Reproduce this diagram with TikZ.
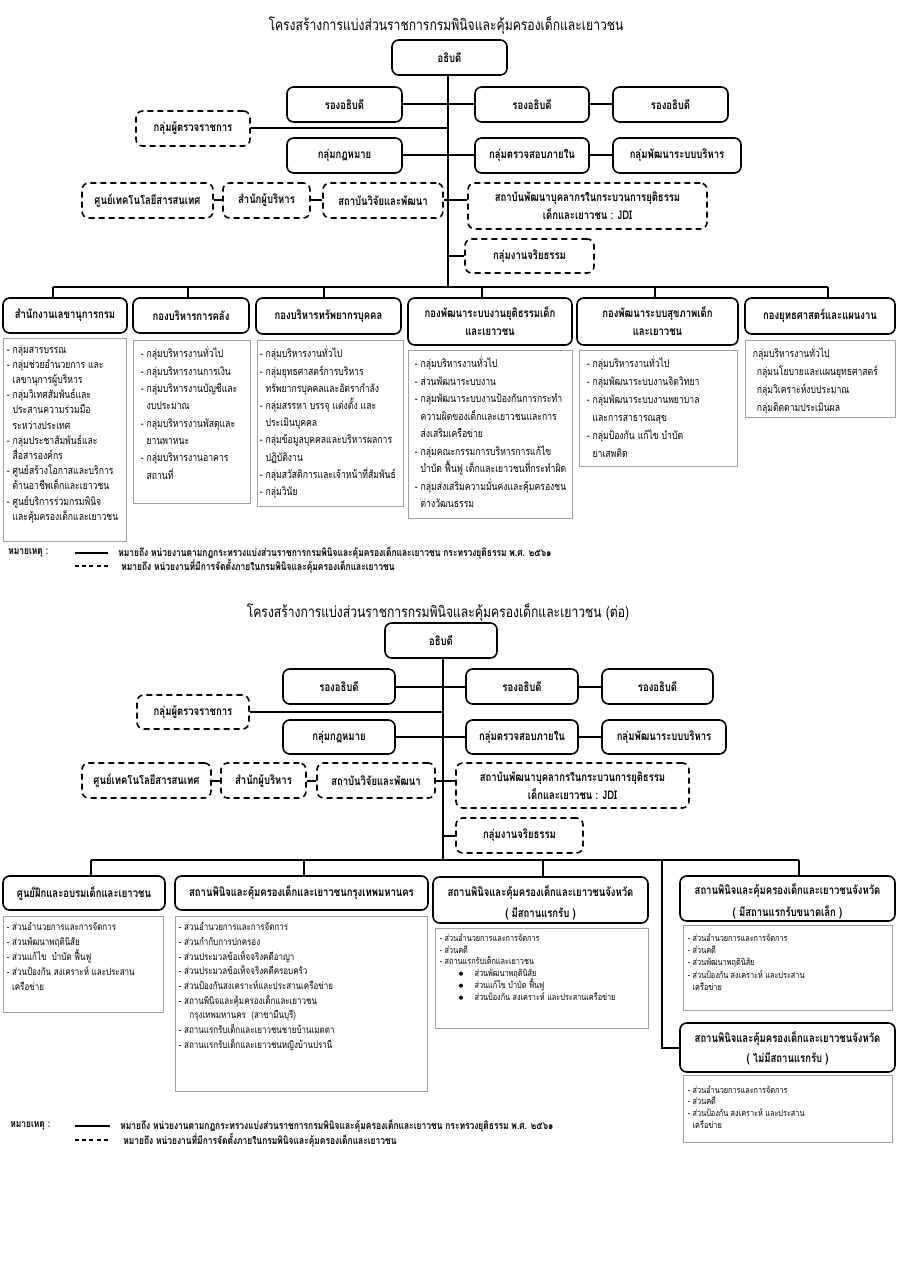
\documentclass[tikz,border=0pt]{standalone}
\usepackage{fontspec}
\setmainfont{Loma}[Script=Thai, FakeStretch=0.8]
\begin{document}
\tikzset{
  ubox/.style={draw, line width=1.2pt, rounded corners=5pt, inner sep=0pt, align=center, font=\bfseries\fontsize{8.9}{13.5}\selectfont},
  dbox/.style={ubox, dash pattern=on 4.5pt off 3pt},
  lbox/.style={draw=gray!75, line width=0.7pt, inner sep=0pt},
  boxlabel/.style={inner sep=0pt, align=center, font=\bfseries\fontsize{8.9}{#1}\selectfont},
  listtext/.style={anchor=north west, inner sep=0pt, align=left, font=\fontsize{8.1}{#1}\selectfont},
  listmid/.style={anchor=north west, inner sep=0pt, align=left, font=\fontsize{7.5}{#1}\selectfont},
  listsmall/.style={anchor=north west, inner sep=0pt, align=left, font=\fontsize{6.85}{#1}\selectfont},
  conn/.style={line width=1.5pt},
  legtext/.style={anchor=west, inner sep=0pt, font=\bfseries\fontsize{7.9}{9}\selectfont},
  ttl/.style={inner sep=0pt, font=\fontsize{11.4}{14}\selectfont}
}
\newcommand\bx[7]{\node[#6, minimum width={(#4-#2)*0.75pt}, minimum height={(#5-#3)*0.75pt}] (#1) at ({(#2+#4)/2},{(#3+#5)/2}) {#7};}
\newcommand\hi{\phantom{- }}
\begin{tikzpicture}[x=0.75pt,y=-0.75pt]
\fill[white] (0,0) rectangle (900,1273);
\useasboundingbox (0,0) rectangle (900,1273);

% ================= TOP CHART =================
\node[ttl] (title1) at (446,25) {โครงสร้างการแบ่งส่วนราชการกรมพินิจและคุ้มครองเด็กและเยาวชน};
\bx{ceo1}{392}{40}{507}{75}{ubox}{อธิบดี}
\bx{dep1a}{287}{87}{402}{122}{ubox}{รองอธิบดี}
\bx{dep1b}{475}{87}{589}{122}{ubox}{รองอธิบดี}
\bx{dep1c}{613}{87}{728}{122}{ubox}{รองอธิบดี}
\bx{insp1}{136}{111}{250}{146}{dbox}{กลุ่มผู้ตรวจราชการ}
\bx{law1}{287}{138}{402}{173}{ubox}{กลุ่มกฎหมาย}
\bx{aud1}{475}{138}{589}{173}{ubox}{กลุ่มตรวจสอบภายใน}
\bx{pmd1}{613}{138}{741}{173}{ubox}{กลุ่มพัฒนาระบบบริหาร}
\bx{ict1}{82}{183}{213}{218}{dbox}{ศูนย์เทคโนโลยีสารสนเทศ}
\bx{exe1}{223}{183}{310}{218}{dbox}{สำนักผู้บริหาร}
\bx{rnd1}{323}{183}{443}{218}{dbox}{สถาบันวิจัยและพัฒนา}
\bx{jdi1}{468}{183}{707}{229}{dbox}{สถาบันพัฒนาบุคลากรในกระบวนการยุติธรรม\\เด็กและเยาวชน : JDI}
\bx{eth1}{465}{239}{594}{273}{dbox}{กลุ่มงานจริยธรรม}

\coordinate (tr1) at (448,287);
\coordinate (b1) at (53,287);
\coordinate (b2) at (188,287);
\coordinate (b3) at (324,287);
\coordinate (b4) at (482,287);
\coordinate (b5) at (655,287);
\coordinate (b6) at (828,287);

\bx{k1}{3}{298}{127}{333}{ubox}{สำนักงานเลขานุการกรม}
\bx{k2}{133}{298}{249}{333}{ubox}{กองบริหารการคลัง}
\bx{k3}{256}{298}{401}{334}{ubox}{กองบริหารทรัพยากรบุคคล}
\bx{k4}{408}{298}{572}{345}{ubox}{กองพัฒนาระบบงานยุติธรรมเด็ก\\และเยาวชน}
\bx{k5}{577}{298}{738}{345}{ubox}{กองพัฒนาระบบสุขภาพเด็ก\\และเยาวชน}
\bx{k6}{745}{298}{895}{334}{ubox}{กองยุทธศาสตร์และแผนงาน}

\draw[conn] (ceo1.south -| tr1) -- (tr1);
\draw[conn] (dep1a.east) -- (dep1b.west);
\draw[conn] (dep1b.east) -- (dep1c.west);
\draw[conn] (insp1.east) -- (insp1.east -| tr1);
\draw[conn] (law1.east) -- (aud1.west);
\draw[conn] (aud1.east) -- (pmd1.west);
\draw[conn] (ict1.east) -- (exe1.west);
\draw[conn] (exe1.east) -- (rnd1.west);
\draw[conn] (rnd1.east) -- (rnd1.east -| jdi1.west);
\draw[conn] (eth1.west -| tr1) -- (eth1.west);
\draw[conn] (b1) -- (b6);
\foreach \i in {1,...,6} {\draw[conn] (b\i) -- (b\i |- k\i.north);}

\bx{l1}{3}{338}{126}{541}{lbox}{}
\bx{l2}{133}{340}{250}{503}{lbox}{}
\bx{l3}{257}{340}{403}{506}{lbox}{}
\bx{l4}{408}{350}{572}{518}{lbox}{}
\bx{l5}{579}{350}{737}{466}{lbox}{}
\bx{l6}{745}{340}{895}{417}{lbox}{}

\node[listtext=11.4] (t1) at ([shift={(4,7)}]l1.north west) {- กลุ่มสารบรรณ\\- กลุ่มช่วยอำนวยการ และ\\\hi เลขานุการผู้บริหาร\\- กลุ่มวิเทศสัมพันธ์และ\\\hi ประสานความร่วมมือ\\\hi ระหว่างประเทศ\\- กลุ่มประชาสัมพันธ์และ\\\hi สื่อสารองค์กร\\- ศูนย์สร้างโอกาสและบริการ\\\hi ด้านอาชีพเด็กและเยาวชน\\- ศูนย์บริการร่วมกรมพินิจ\\\hi และคุ้มครองเด็กและเยาวชน};
\node[listtext=13] (t2) at ([shift={(8,7)}]l2.north west) {- กลุ่มบริหารงานทั่วไป\\- กลุ่มบริหารงานการเงิน\\- กลุ่มบริหารงานบัญชีและ\\\hi งบประมาณ\\- กลุ่มบริหารงานพัสดุและ\\\hi ยานพาหนะ\\- กลุ่มบริหารงานอาคาร\\\hi สถานที่};
\node[listtext=12.9] (t3) at ([shift={(3,7)}]l3.north west) {- กลุ่มบริหารงานทั่วไป\\- กลุ่มยุทธศาสตร์การบริหาร\\\hi ทรัพยากรบุคคลและอัตรากำลัง\\- กลุ่มสรรหา บรรจุ แต่งตั้ง และ\\\hi ประเมินบุคคล\\- กลุ่มข้อมูลบุคคลและบริหารผลการ\\\hi ปฏิบัติงาน\\- กลุ่มสวัสดิการและเจ้าหน้าที่สัมพันธ์\\- กลุ่มวินัย};
\node[listtext=13.1] (t4) at ([shift={(7,7)}]l4.north west) {- กลุ่มบริหารงานทั่วไป\\- ส่วนพัฒนาระบบงาน\\- กลุ่มพัฒนาระบบงานป้องกันการกระทำ\\\hi ความผิดของเด็กและเยาวชนและการ\\\hi ส่งเสริมเครือข่าย\\- กลุ่มคณะกรรมการบริหารการแก้ไข\\\hi บำบัด ฟื้นฟู เด็กและเยาวชนที่กระทำผิด\\- กลุ่มส่งเสริมความมั่นคงและคุ้มครองชน\\\hi ต่างวัฒนธรรม};
\node[listtext=13.4] (t5) at ([shift={(8,7)}]l5.north west) {- กลุ่มบริหารงานทั่วไป\\- กลุ่มพัฒนาระบบงานจิตวิทยา\\- กลุ่มพัฒนาระบบงานพยาบาล\\\hi และการสาธารณสุข\\- กลุ่มป้องกัน แก้ไข บำบัด\\\hi ยาเสพติด};
\node[listtext=13.5] (t6) at ([shift={(8,7)}]l6.north west) {กลุ่มบริหารงานทั่วไป\\\hspace*{3pt}กลุ่มนโยบายและแผนยุทธศาสตร์\\\hspace*{3pt}กลุ่มวิเคราะห์งบประมาณ\\\hspace*{3pt}กลุ่มติดตามประเมินผล};

\node[legtext] (note1) at (8,553) {หมายเหตุ :};
\coordinate (sa1) at (75,553);
\coordinate (sb1) at (108,553);
\coordinate (da1) at (75,566);
\coordinate (db1) at (108,566);
\draw[line width=1pt] (sa1) -- (sb1);
\draw[line width=1pt, dash pattern=on 3pt off 2.4pt] (da1) -- (db1);
\node[legtext] (lg1a) at (118,553) {หมายถึง หน่วยงานตามกฎกระทรวงแบ่งส่วนราชการกรมพินิจและคุ้มครองเด็กและเยาวชน กระทรวงยุติธรรม พ.ศ. ๒๕๖๑};
\node[legtext] (lg1b) at (121,566) {หมายถึง หน่วยงานที่มีการจัดตั้งภายในกรมพินิจและคุ้มครองเด็กและเยาวชน};

% ================= BOTTOM CHART =================
\node[ttl] (title2) at (438,612) {โครงสร้างการแบ่งส่วนราชการกรมพินิจและคุ้มครองเด็กและเยาวชน (ต่อ)};
\bx{ceo2}{385}{623}{497}{658}{ubox}{อธิบดี}
\bx{dep2a}{283}{669}{395}{704}{ubox}{รองอธิบดี}
\bx{dep2b}{466}{669}{578}{704}{ubox}{รองอธิบดี}
\bx{dep2c}{602}{669}{713}{704}{ubox}{รองอธิบดี}
\bx{insp2}{137}{695}{249}{729}{dbox}{กลุ่มผู้ตรวจราชการ}
\bx{law2}{283}{720}{395}{754}{ubox}{กลุ่มกฎหมาย}
\bx{aud2}{466}{720}{578}{754}{ubox}{กลุ่มตรวจสอบภายใน}
\bx{pmd2}{602}{720}{726}{754}{ubox}{กลุ่มพัฒนาระบบบริหาร}
\bx{ict2}{82}{763}{211}{798}{dbox}{ศูนย์เทคโนโลยีสารสนเทศ}
\bx{exe2}{221}{763}{306}{798}{dbox}{สำนักผู้บริหาร}
\bx{rnd2}{317}{763}{435}{798}{dbox}{สถาบันวิจัยและพัฒนา}
\bx{jdi2}{456}{763}{689}{808}{dbox}{สถาบันพัฒนาบุคลากรในกระบวนการยุติธรรม\\เด็กและเยาวชน : JDI}
\bx{eth2}{456}{818}{583}{853}{dbox}{กลุ่มงานจริยธรรม}

\coordinate (tr2) at (443,860);
\coordinate (c1) at (91,860);
\coordinate (c2) at (304,860);
\coordinate (c3) at (543,860);
\coordinate (c5) at (662,860);
\coordinate (c4) at (799,860);

\bx{m1}{3}{876}{165}{910}{ubox}{ศูนย์ฝึกและอบรมเด็กและเยาวชน}
\bx{m2}{175}{876}{428}{910}{ubox}{สถานพินิจและคุ้มครองเด็กและเยาวชนกรุงเทพมหานคร}
\bx{m3}{433}{877}{648}{923}{ubox}{}
\bx{m4}{680}{876}{895}{921}{ubox}{}
\bx{m5}{680}{1023}{895}{1072}{ubox}{}
\node[boxlabel=15.8] (m3t) at (540.5,903) {สถานพินิจและคุ้มครองเด็กและเยาวชนจังหวัด\\( มีสถานแรกรับ )};
\node[boxlabel=16.5] (m4t) at (787.5,901.5) {สถานพินิจและคุ้มครองเด็กและเยาวชนจังหวัด\\( มีสถานแรกรับขนาดเล็ก )};
\node[boxlabel=15] (m5t) at (787.5,1048) {สถานพินิจและคุ้มครองเด็กและเยาวชนจังหวัด\\( ไม่มีสถานแรกรับ )};

\draw[conn] (ceo2.south -| tr2) -- (tr2);
\draw[conn] (dep2a.east) -- (dep2b.west);
\draw[conn] (dep2b.east) -- (dep2c.west);
\draw[conn] (insp2.east) -- (insp2.east -| tr2);
\draw[conn] (law2.east) -- (aud2.west);
\draw[conn] (aud2.east) -- (pmd2.west);
\draw[conn] (ict2.east) -- (exe2.west);
\draw[conn] (exe2.east) -- (rnd2.west);
\draw[conn] (rnd2.east) -- (rnd2.east -| jdi2.west);
\draw[conn] (eth2.west -| tr2) -- (eth2.west);
\draw[conn] (c1) -- (c4);
\foreach \i in {1,...,4} {\draw[conn] (c\i) -- (c\i |- m\i.north);}
\draw[conn] (c5) |- (m5.west);

\bx{n1}{3}{916}{163}{1012}{lbox}{}
\bx{n2}{175}{916}{427}{1091}{lbox}{}
\bx{n3}{435}{928}{648}{1028}{lbox}{}
\bx{n4}{683}{925}{892}{1010}{lbox}{}
\bx{n5}{683}{1075}{892}{1142}{lbox}{}

\node[listmid=11.2] (u1) at ([shift={(4,7)}]n1.north west) {- ส่วนอำนวยการและการจัดการ\\- ส่วนพัฒนาพฤตินิสัย\\- ส่วนแก้ไข \ บำบัด ฟื้นฟู\\- ส่วนป้องกัน สงเคราะห์ และประสาน\\\hi เครือข่าย};
\node[listmid=11] (u2) at ([shift={(4,7)}]n2.north west) {- ส่วนอำนวยการและการจัดการ\\- ส่วนกำกับการปกครอง\\- ส่วนประมวลข้อเท็จจริงคดีอาญา\\- ส่วนประมวลข้อเท็จจริงคดีครอบครัว\\- ส่วนป้องกันสงเคราะห์และประสานเครือข่าย\\- สถานพินิจและคุ้มครองเด็กและเยาวชน\\\hi\hspace*{4pt}กรุงเทพมหานคร \ (สาขามีนบุรี)\\- สถานแรกรับเด็กและเยาวชนชายบ้านเมตตา\\- สถานแรกรับเด็กและเยาวชนหญิงบ้านปรานี};
\node[listsmall=8.9] (u3) at ([shift={(5,6)}]n3.north west) {- ส่วนอำนวยการและการจัดการ\\- ส่วนคดี\\- สถานแรกรับเด็กและเยาวชน\\\hspace*{14pt}$\bullet$\hspace*{8pt}ส่วนพัฒนาพฤตินิสัย\\\hspace*{14pt}$\bullet$\hspace*{8pt}ส่วนแก้ไข บำบัด ฟื้นฟู\\\hspace*{14pt}$\bullet$\hspace*{8pt}ส่วนป้องกัน สงเคราะห์ และประสานเครือข่าย};
\node[listsmall=9.2] (u4) at ([shift={(5,9)}]n4.north west) {- ส่วนอำนวยการและการจัดการ\\- ส่วนคดี\\- ส่วนพัฒนาพฤตินิสัย\\- ส่วนป้องกัน สงเคราะห์ และประสาน\\\hi เครือข่าย};
\node[listsmall=8.7] (u5) at ([shift={(5,11)}]n5.north west) {- ส่วนอำนวยการและการจัดการ\\- ส่วนคดี\\- ส่วนป้องกัน สงเคราะห์ และประสาน\\\hi เครือข่าย};

\node[legtext] (note2) at (10,1126) {หมายเหตุ :};
\coordinate (sa2) at (75,1126);
\coordinate (sb2) at (110,1126);
\coordinate (da2) at (75,1140);
\coordinate (db2) at (110,1140);
\draw[line width=1pt] (sa2) -- (sb2);
\draw[line width=1pt, dash pattern=on 3pt off 2.4pt] (da2) -- (db2);
\node[legtext] (lg2a) at (120,1126) {หมายถึง หน่วยงานตามกฎกระทรวงแบ่งส่วนราชการกรมพินิจและคุ้มครองเด็กและเยาวชน กระทรวงยุติธรรม พ.ศ. ๒๕๖๑};
\node[legtext] (lg2b) at (123,1140) {หมายถึง หน่วยงานที่มีการจัดตั้งภายในกรมพินิจและคุ้มครองเด็กและเยาวชน};
\end{tikzpicture}
\end{document}
